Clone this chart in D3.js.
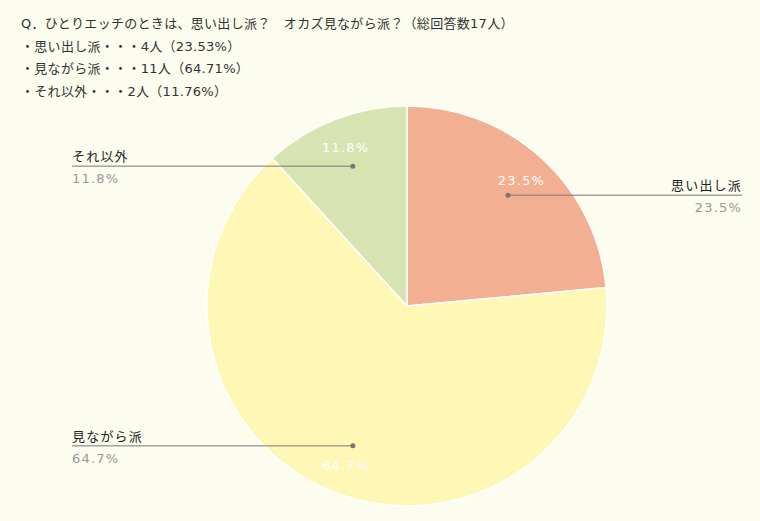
<!DOCTYPE html>
<html><head><meta charset="utf-8">
<script src="https://cdn.jsdelivr.net/npm/d3@7"></script>
<style>
html,body{margin:0;padding:0;background:#fcfcef;}
svg{display:block;}
text{font-family:"DejaVu Sans","Noto Sans CJK JP",sans-serif;}
</style></head>
<body>
<svg id="c" width="760" height="521"></svg>
<script>
const titleLines = [
  "Q．ひとりエッチのときは、思い出し派？　オカズ見ながら派？（総回答数17人）",
  "・思い出し派・・・4人（23.53%）",
  "・見ながら派・・・11人（64.71%）",
  "・それ以外・・・2人（11.76%）"
];
const categories = ["思い出し派", "見ながら派", "それ以外"];
const counts = [4, 11, 2];
const pctLabels = ["23.5%", "64.7%", "11.8%"];
const colors = ["#f3af92", "#fff7b6", "#d7e4b1"];

const svg = d3.select("#c");
const W = 760, H = 521;
const cx = 407, cy = 306, R = 200;

svg.append("g").selectAll("text").data(titleLines).join("text")
  .attr("x", 21).attr("y", (d,i) => 28 + i*22.5)
  .attr("font-size", 13).attr("fill", "#333").attr("letter-spacing", 0.3)
  .text(d => d);

const pie = d3.pie().sort(null).value(d => d)(counts);
const arc = d3.arc().innerRadius(0).outerRadius(R);
const g = svg.append("g").attr("transform", `translate(${cx},${cy})`);

g.selectAll("path").data(pie).join("path")
  .attr("d", arc).attr("fill", (d,i) => colors[i])
  .attr("stroke", "#fff").attr("stroke-width", 1.5);

const dotArc = d3.arc().innerRadius(150).outerRadius(150);
const txtArc = d3.arc().innerRadius(170).outerRadius(170);

// inner percentage labels
g.selectAll("text.in").data(pie).join("text").attr("class","in")
  .attr("x", d => txtArc.centroid(d)[0])
  .attr("y", d => txtArc.centroid(d)[1] + 5)
  .attr("text-anchor", "middle").attr("font-size", 13)
  .attr("letter-spacing", 1.2).attr("fill", "#fff")
  .text((d,i) => pctLabels[i]);

// leader lines and outside labels
pie.forEach((d,i) => {
  const [dx, dy] = dotArc.centroid(d);
  const right = dx > 0;
  const endX = right ? 742 - cx : 72 - cx;
  g.append("line").attr("x1", dx).attr("y1", dy).attr("x2", endX).attr("y2", dy)
    .attr("stroke", "#777").attr("stroke-width", 1);
  g.append("circle").attr("cx", dx).attr("cy", dy).attr("r", 2.5).attr("fill", "#777");
  g.append("text").attr("x", endX).attr("y", dy - 5)
    .attr("text-anchor", right ? "end" : "start")
    .attr("font-size", 13).attr("letter-spacing", 1.2).attr("fill", "#222")
    .text(categories[i]);
  g.append("text").attr("x", endX).attr("y", dy + 17)
    .attr("text-anchor", right ? "end" : "start")
    .attr("font-size", 13).attr("letter-spacing", 1.2).attr("fill", "#999")
    .text(pctLabels[i]);
});
</script>
</body></html>
